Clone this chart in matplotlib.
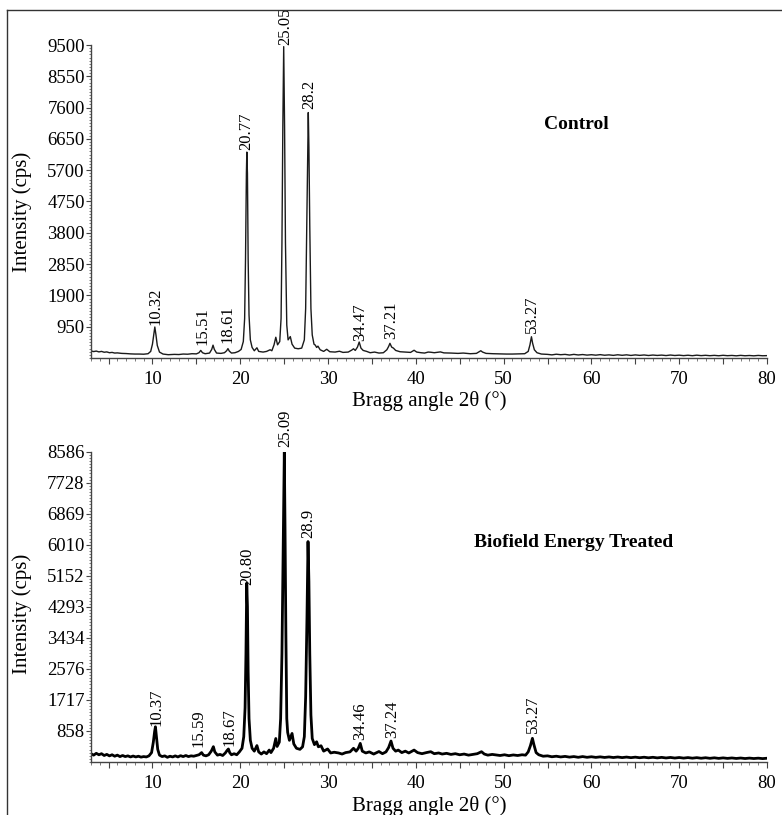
import matplotlib
matplotlib.use("Agg")
import matplotlib.pyplot as plt
from matplotlib.ticker import MultipleLocator, FixedLocator, FuncFormatter
from matplotlib.lines import Line2D

plt.rcParams['font.family'] = ['Liberation Serif', 'DejaVu Serif']

# ---------------- data: Control ----------------
control_theta = [3.0, 3.3, 3.6, 3.9, 4.2, 4.5, 4.8, 5.1, 5.4, 5.7, 6.0, 6.5, 7.0, 7.5, 8.0, 8.5, 9.0, 9.5, 9.8,
                 10.0, 10.15, 10.27, 10.4, 10.55, 10.8, 11.2, 11.8, 12.5, 13.0, 13.5, 14.0,
                 14.5, 15.0, 15.3, 15.5, 15.7, 16.0, 16.5, 16.75, 16.9, 17.05, 17.3, 17.8,
                 18.2, 18.45, 18.6, 18.75, 19.0, 19.4, 19.8, 20.1, 20.35, 20.5, 20.6, 20.7,
                 20.75, 20.82, 20.9, 21.0, 21.15, 21.35, 21.6, 21.9, 22.1, 22.6, 23.0, 23.4,
                 23.6, 23.85, 24.05, 24.25, 24.5, 24.65, 24.75, 24.85, 24.95, 25.05, 25.15,
                 25.3, 25.45, 25.7, 25.9, 26.2, 26.6, 27.0, 27.3, 27.45, 27.6, 27.7, 27.75,
                 27.82, 27.92, 28.05, 28.2, 28.4, 28.55, 28.7, 28.85, 29.1, 29.5, 29.85, 30.2,
                 30.8, 31.3, 31.7, 32.3, 32.7, 32.9, 33.1, 33.35, 33.55, 33.75, 34.0, 34.4,
                 34.8, 35.3, 35.8, 36.3, 36.7, 36.9, 37.05, 37.25, 37.45, 37.7, 38.2, 38.8,
                 39.4, 39.8, 40.1, 40.6, 41.0, 41.4, 41.7, 42.1, 42.8, 43.2, 44.0, 44.8, 45.4,
                 46.2, 46.9, 47.2, 47.4, 47.6, 48.0, 48.8, 49.5, 50.3, 51.0, 51.8, 52.4, 52.8,
                 53.0, 53.17, 53.3, 53.5, 53.8, 54.3, 55.0, 55.5, 56.0, 56.5, 57.0, 57.5, 58.0,
                 58.5, 59.0, 59.5, 60.0, 60.5, 61.0, 61.5, 62.0, 62.5, 63.0, 63.5, 64.0, 64.5,
                 65.0, 65.5, 66.0, 66.5, 67.0, 67.5, 68.0, 68.5, 69.0, 69.5, 70.0, 70.5, 71.0,
                 71.5, 72.0, 72.5, 73.0, 73.5, 74.0, 74.5, 75.0, 75.5, 76.0, 76.5, 77.0, 77.5,
                 78.0, 78.5, 79.0, 79.5, 80.0]
control_counts = [215, 195, 210, 185, 200, 175, 185, 160, 170, 150, 155, 140, 135, 125, 120, 120, 115, 130, 200,
                  420, 700, 940, 700, 380, 180, 120, 100, 110, 105, 120, 115,
                  130, 125, 160, 230, 160, 130, 150, 260, 390, 260, 150, 140,
                  160, 220, 285, 210, 150, 160, 200, 260, 500, 1200, 3000, 5600,
                  6250, 5600, 3000, 1300, 550, 320, 220, 310, 200, 180, 200, 250,
                  220, 400, 630, 400, 500, 1200, 3500, 7000, 9450, 7000, 3500,
                  1000, 550, 650, 420, 300, 280, 300, 550, 1500, 4500, 6500, 7450,
                  6400, 4000, 1500, 700, 420, 390, 320, 360, 250, 200, 265, 190,
                  180, 205, 170, 180, 240, 280, 230, 330, 485, 300, 230, 200,
                  160, 180, 150, 160, 250, 350, 445, 330, 300, 230, 190, 180,
                  170, 235, 180, 160, 150, 180, 175, 160, 185, 155, 150, 140, 150,
                  130, 140, 190, 220, 180, 140, 130, 125, 120, 120, 125, 130, 200,
                  400, 645, 450, 250, 160, 120, 110, 95, 115, 100, 110, 90, 110,
                  92, 105, 88, 100, 86, 102, 84, 95, 80, 98, 82, 96, 78,
                  94, 80, 92, 76, 90, 78, 88, 74, 90, 76, 86, 72, 84,
                  70, 86, 72, 82, 70, 80, 68, 82, 70, 78, 66, 80, 68,
                  76, 66, 78, 68, 72]

# ---------------- data: Biofield Energy Treated ----------------
treated_theta = [3.0, 3.3, 3.6, 3.9, 4.2, 4.5, 4.8, 5.1, 5.4, 5.7, 6.0, 6.3, 6.6, 6.9, 7.2,
                 7.5, 7.8, 8.1, 8.4, 8.7, 9.0, 9.3, 9.6, 9.9, 10.1, 10.25, 10.34, 10.45, 10.6,
                 10.8, 11.1, 11.4, 11.7, 12.0, 12.3, 12.6, 12.9, 13.2, 13.5, 13.8, 14.1, 14.4,
                 14.7, 15.0, 15.3, 15.6, 15.8, 16.1, 16.4, 16.7, 16.94, 17.1, 17.4, 17.7, 18.0,
                 18.3, 18.5, 18.65, 18.8, 19.0, 19.3, 19.6, 19.9, 20.2, 20.4, 20.55, 20.65,
                 20.74, 20.82, 20.9, 21.0, 21.15, 21.35, 21.6, 21.9, 22.1, 22.4, 22.7, 23.0,
                 23.3, 23.5, 23.8, 24.05, 24.2, 24.45, 24.6, 24.75, 24.9, 25.02, 25.1, 25.2,
                 25.3, 25.4, 25.6, 25.9, 26.1, 26.4, 26.8, 27.1, 27.3, 27.45, 27.6, 27.72,
                 27.82, 27.92, 28.05, 28.2, 28.45, 28.7, 28.9, 29.2, 29.5, 29.95, 30.3, 30.7,
                 31.2, 31.6, 32.0, 32.5, 32.9, 33.2, 33.45, 33.67, 33.9, 34.3, 34.7, 35.2,
                 35.8, 36.2, 36.6, 36.9, 37.17, 37.4, 37.7, 38.0, 38.4, 38.8, 39.2, 39.8,
                 40.2, 40.7, 41.2, 41.7, 42.1, 42.6, 43.0, 43.5, 44.0, 44.5, 45.0, 45.5,
                 46.0, 46.5, 47.0, 47.48, 47.8, 48.2, 48.7, 49.2, 49.6, 50.1, 50.6, 51.1,
                 51.6, 52.1, 52.5, 52.8, 53.05, 53.28, 53.45, 53.7, 54.0, 54.5, 55.0, 55.5,
                 56.0, 56.5, 57.0, 57.5, 58.0, 58.5, 59.0, 59.5, 60.0, 60.5, 61.0, 61.5,
                 62.0, 62.5, 63.0, 63.5, 64.0, 64.5, 65.0, 65.5, 66.0, 66.5, 67.0, 67.5,
                 68.0, 68.5, 69.0, 69.5, 70.0, 70.5, 71.0, 71.5, 72.0, 72.5, 73.0, 73.5,
                 74.0, 74.5, 75.0, 75.5, 76.0, 76.5, 77.0, 77.5, 78.0, 78.5, 79.0, 79.5, 80.0]
treated_counts = [230, 190, 240, 200, 230, 180, 210, 170, 200, 160, 190, 150, 180, 150, 170,
                  140, 165, 140, 160, 135, 150, 140, 170, 260, 550, 850, 975, 700, 350,
                  190, 150, 170, 130, 160, 140, 170, 140, 175, 150, 180, 150, 170,
                  160, 180, 200, 260, 190, 170, 200, 300, 425, 280, 190, 210, 180,
                  250, 320, 360, 260, 200, 230, 200, 280, 380, 700, 1500, 3000,
                  4950, 4300, 2500, 1200, 600, 380, 300, 455, 280, 220, 280, 230,
                  330, 260, 380, 650, 430, 550, 1200, 3000, 6000, 8580, 6500, 3500,
                  1200, 820, 600, 790, 500, 380, 350, 420, 700, 1800, 4000, 6100,
                  5000, 3000, 1300, 650, 480, 560, 420, 450, 300, 360, 250, 270,
                  250, 220, 260, 280, 380, 300, 380, 515, 300, 250, 280, 220,
                  290, 230, 280, 400, 580, 380, 300, 330, 260, 300, 250, 330,
                  260, 230, 260, 285, 230, 250, 220, 240, 210, 230, 200, 220,
                  190, 210, 230, 285, 220, 190, 210, 195, 180, 200, 175, 195,
                  180, 200, 190, 280, 450, 655, 480, 260, 200, 160, 170, 145,
                  160, 140, 155, 135, 150, 130, 150, 130, 145, 128, 142, 126,
                  140, 124, 138, 122, 136, 120, 134, 118, 132, 116, 130, 114,
                  128, 112, 126, 110, 124, 108, 122, 106, 120, 104, 118, 102,
                  116, 100, 114, 100, 112, 98, 110, 96, 108, 96, 106, 94, 104]

# tick labels
control_yticks = [950, 1900, 2850, 3800, 4750, 5700, 6650, 7600, 8550, 9500]
treated_yticks = [858, 1717, 2576, 3434, 4293, 5152, 6010, 6869, 7728, 8586]
x_ticks = [10, 20, 30, 40, 50, 60, 70, 80]

# peak annotations
control_peak_labels = ["10.32", "15.51", "18.61", "20.77", "25.05", "28.2", "34.47", "37.21", "53.27"]
control_peak_x = [10.34, 15.65, 18.54, 20.70, 25.14, 27.87, 33.64, 37.20, 53.17]
control_peak_y = [1000, 395, 455, 6310, 9500, 7557, 525, 577, 759]

treated_peak_labels = ["10.37", "15.59", "18.67", "20.80", "25.09", "28.9", "34.46", "37.24", "53.27"]
treated_peak_x = [10.42, 15.27, 18.76, 20.85, 25.14, 27.79, 33.67, 37.35, 53.36]
treated_peak_y = [1004, 423, 451, 4898, 8724, 6207, 609, 655, 794]

W, H = 782, 815
fig = plt.figure(figsize=(W / 100, H / 100), dpi=100)

def fx(px):
    return px / W

def fy(py):
    return 1 - py / H

ax_left, ax_right = 91, 767
ax1 = fig.add_axes([fx(ax_left), fy(358), (ax_right - ax_left) / W, (358 - 45) / H])
ax2 = fig.add_axes([fx(ax_left), fy(762), (ax_right - ax_left) / W, (762 - 451.7) / H])

def style(ax, yticks, ymax, yminor):
    ax.set_xlim(3, 80)
    ax.set_ylim(0, ymax)
    for s in ['top', 'right']:
        ax.spines[s].set_visible(False)
    for s in ['left', 'bottom']:
        ax.spines[s].set_color('#444444')
        ax.spines[s].set_linewidth(1.0)
    ax.yaxis.set_major_locator(FixedLocator(yticks))
    ax.yaxis.set_minor_locator(MultipleLocator(yminor))
    ax.xaxis.set_major_locator(MultipleLocator(5))
    ax.xaxis.set_minor_locator(MultipleLocator(1))
    ax.xaxis.set_major_formatter(FuncFormatter(lambda v, p: f"{int(round(v))}" if int(round(v)) % 10 == 0 else ""))
    ax.tick_params(axis='y', which='major', direction='out', length=3.5, width=0.8,
                   pad=1, labelsize=13.5, color='#444444')
    ax.tick_params(axis='y', which='minor', direction='out', length=1.5, width=0.6, color='#666666')
    ax.tick_params(axis='x', which='major', direction='out', length=4, width=0.8,
                   pad=5, labelsize=13.5, color='#444444')
    ax.tick_params(axis='x', which='minor', direction='out', length=2, width=0.6, color='#666666')

style(ax1, control_yticks, 9500, 95)
style(ax2, treated_yticks, 8586, 85.86)

ax1.plot(control_theta, control_counts, color='#1a1a1a', lw=1.0)
ax2.plot(treated_theta, treated_counts, color='#000000', lw=2.0)

for lab, x, y in zip(control_peak_labels, control_peak_x, control_peak_y):
    ax1.text(x, y, lab, rotation=90, ha='center', va='bottom', fontsize=12,
             clip_on=False)
for lab, x, y in zip(treated_peak_labels, treated_peak_x, treated_peak_y):
    ax2.text(x, y, lab, rotation=90, ha='center', va='bottom', fontsize=12,
             clip_on=False)

ax1.text(58.26, 7072, "Control", ha='center', va='center', fontsize=14, fontweight='bold')
ax2.text(58.0, 6087, "Biofield Energy Treated", ha='center', va='center', fontsize=14,
         fontweight='bold')

for yc in (212, 614):
    fig.text(fx(22), fy(yc), "Intensity (cps)", rotation=90, ha='center', va='center',
             fontsize=15)
for yc in (401, 806):
    fig.text(fx(429), fy(yc), "Bragg angle 2θ (°)", ha='center', va='center', fontsize=15)

# figure border (top and left)
fig.add_artist(Line2D([fx(7), fx(782)], [fy(10), fy(10)], color='#333333', lw=1.0))
fig.add_artist(Line2D([fx(7), fx(7)], [fy(10), fy(815)], color='#333333', lw=1.0))

fig.savefig("out.png", dpi=100)
